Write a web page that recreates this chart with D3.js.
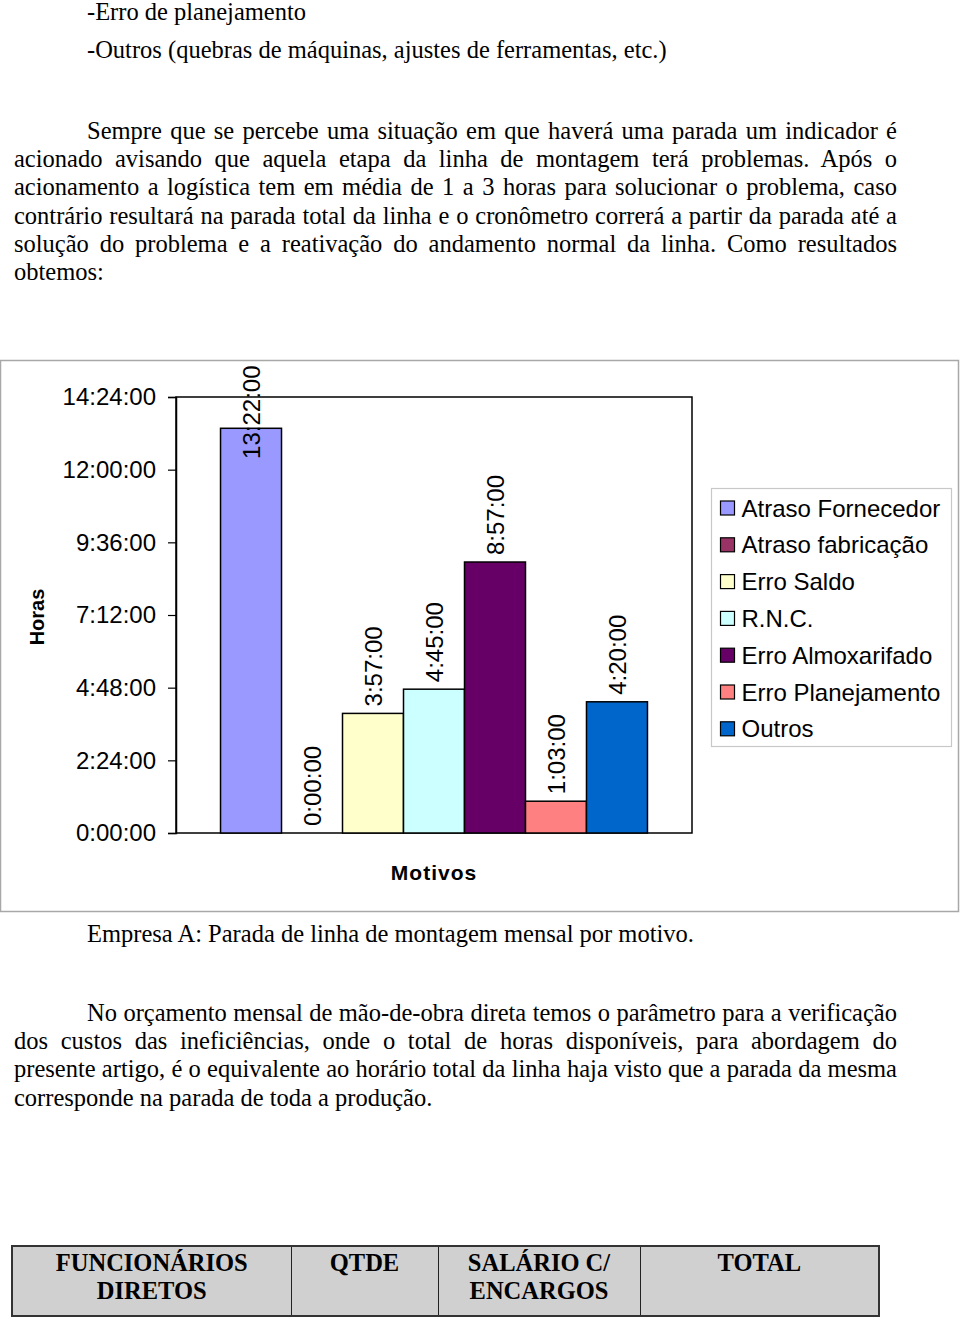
<!DOCTYPE html>
<html>
<head>
<meta charset="utf-8">
<script src="https://cdn.jsdelivr.net/npm/d3@7"></script>
<style>
  html, body { margin: 0; padding: 0; background: #fff; }
  body { width: 960px; height: 1319px; position: relative; overflow: hidden; }
  .doc { position: absolute; font-family: "Liberation Serif", "Times New Roman", serif; font-size: 24.5px; color: #000; line-height: 28.2px; white-space: nowrap; }
  .jl { text-align: justify; text-align-last: justify; white-space: normal; }
  svg { position: absolute; left: 0; top: 0; }
  table.t { position: absolute; left: 11px; top: 1245px; width: 867px; table-layout: fixed; border-collapse: collapse; background: #d0d0d0;
            border: 2.5px solid #333;
            font-family: "Liberation Serif", "Times New Roman", serif; font-weight: bold; font-size: 24.5px; line-height: 28px; }
  table.t td { border: 1.5px solid #222; text-align: center; vertical-align: top; padding: 2px 0 0 0; height: 66px; }
</style>
</head>
<body>
<script>
// ---- chart data ----
const categories = ["Atraso Fornecedor", "Atraso fabricação", "Erro Saldo", "R.N.C.", "Erro Almoxarifado", "Erro Planejamento", "Outros"];
const values = ["13:22:00", "0:00:00", "3:57:00", "4:45:00", "8:57:00", "1:03:00", "4:20:00"];
const colors = ["#9999FF", "#993366", "#FFFFCC", "#CCFFFF", "#660066", "#FF8080", "#0066CC"];
const tickLabels = ["0:00:00", "2:24:00", "4:48:00", "7:12:00", "9:36:00", "12:00:00", "14:24:00"];
const yTitle = "Horas";
const xTitle = "Motivos";

// ---- document text ----
const bullets = ["-Erro de planejamento", "-Outros (quebras de máquinas, ajustes de ferramentas, etc.)"];
const para1 = [
  "Sempre que se percebe uma situação em que haverá uma parada um indicador é",
  "acionado avisando que aquela etapa da linha de montagem terá problemas. Após o",
  "acionamento a logística tem em média de 1 a 3 horas para solucionar o problema, caso",
  "contrário resultará na parada total da linha e o cronômetro correrá a partir da parada até a",
  "solução do problema e a reativação do andamento normal da linha. Como resultados",
  "obtemos:"
];
const caption = "Empresa A: Parada de linha de montagem mensal por motivo.";
const para2 = [
  "No orçamento mensal de mão-de-obra direta temos o parâmetro para a verificação",
  "dos custos das ineficiências, onde o total de horas disponíveis, para abordagem do",
  "presente artigo, é o equivalente ao horário total da linha haja visto que a parada da mesma",
  "corresponde na parada de toda a produção."
];
const tableHead = [["FUNCIONÁRIOS", "DIRETOS"], ["QTDE"], ["SALÁRIO C/", "ENCARGOS"], ["TOTAL"]];
const tableColWidths = [279, 147, 202, 239];

const toHours = s => { const [h, m, sec] = s.split(":").map(Number); return h + m / 60 + sec / 3600; };

// ---- document text rendering ----
const body = d3.select("body");
function block(lines, left, top, width, indent) {
  const div = body.append("div").attr("class", "doc").style("left", left + "px").style("top", top + "px").style("width", width + "px");
  lines.forEach((l, i) => {
    const last = i === lines.length - 1;
    div.append("div")
      .attr("class", last ? null : "jl")
      .style("padding-left", (i === 0 ? indent : 0) + "px")
      .text(l);
  });
}
body.append("div").attr("class", "doc").style("left", "87px").style("top", "0px").style("line-height", "24px").text(bullets[0]);
body.append("div").attr("class", "doc").style("left", "87px").style("top", "36px").text(bullets[1]);
block(para1, 14, 117, 883, 73);
body.append("div").attr("class", "doc").style("left", "87px").style("top", "920px").text(caption);
block(para2, 14, 999, 883, 73);

// ---- table ----
const tbl = body.append("table").attr("class", "t");
const cg = tbl.append("colgroup");
tableColWidths.forEach(w => cg.append("col").style("width", w + "px"));
const tr = tbl.append("tr");
tableHead.forEach(c => { tr.append("td").html(c.join("<br>")); });

// ---- chart ----
const svg = body.append("svg").attr("width", 960).attr("height", 1319);
const frame = { x: 0.5, y: 360.5, w: 958, h: 551 };
svg.append("rect").attr("x", frame.x).attr("y", frame.y).attr("width", frame.w).attr("height", frame.h)
  .attr("fill", "#fff").attr("stroke", "#a8a8a8").attr("stroke-width", 1.5);

const plot = { left: 176, top: 397, right: 692, bottom: 833 };
const pw = plot.right - plot.left, ph = plot.bottom - plot.top;
const g = svg.append("g").attr("transform", `translate(${plot.left},${plot.top})`);

const y = d3.scaleLinear().domain([0, toHours(tickLabels[tickLabels.length - 1])]).range([ph, 0]);
const x = d3.scaleBand().domain(categories).range([0, pw]).paddingInner(0).paddingOuter(0.73);
const color = d3.scaleOrdinal().domain(categories).range(colors);

// plot border
g.append("rect").attr("width", pw).attr("height", ph).attr("fill", "#fff").attr("stroke", "#000").attr("stroke-width", 1.5);

// y axis
const yAxis = d3.axisLeft(y).tickValues(tickLabels.map(toHours)).tickFormat((d, i) => tickLabels[i]).tickSize(8).tickPadding(12);
const ya = g.append("g").call(yAxis);
ya.select(".domain").attr("stroke", "#000").attr("stroke-width", 1.5);
ya.selectAll(".tick line").attr("stroke", "#000").attr("stroke-width", 1.2);
ya.selectAll(".tick text").attr("font-family", "Liberation Sans, Arial, sans-serif").attr("font-size", 24).attr("fill", "#000");

// bars
const data = categories.map((c, i) => ({ c, v: toHours(values[i]), label: values[i] }));
g.selectAll("rect.bar").data(data).join("rect").attr("class", "bar")
  .attr("x", d => x(d.c)).attr("width", x.bandwidth())
  .attr("y", d => y(d.v)).attr("height", d => ph - y(d.v))
  .attr("fill", d => color(d.c)).attr("stroke", d => d.v > 0 ? "#000" : "none").attr("stroke-width", 1.5);

// bar labels
const labs = g.selectAll("text.lab").data(data).join("text").attr("class", "lab")
  .attr("font-family", "Liberation Sans, Arial, sans-serif").attr("font-size", 24).attr("fill", "#000")
  .attr("text-anchor", "start").attr("dy", "0.36em")
  .text(d => d.label);
labs.each(function (d) {
  const len = this.getComputedTextLength();
  const minStart = (frame.y + 5 - plot.top) + len;
  const sy = Math.max(y(d.v) - 7, minStart);
  d3.select(this).attr("transform", `translate(${x(d.c) + x.bandwidth() / 2},${sy}) rotate(-90)`);
});

// axis titles
svg.append("text").attr("transform", "translate(37,617) rotate(-90)").attr("text-anchor", "middle").attr("dy", "0.36em")
  .attr("font-family", "Liberation Sans, Arial, sans-serif").attr("font-weight", "bold").attr("font-size", 20).text(yTitle);
svg.append("text").attr("x", 434).attr("y", 872).attr("text-anchor", "middle").attr("dy", "0.36em")
  .attr("font-family", "Liberation Sans, Arial, sans-serif").attr("font-weight", "bold").attr("font-size", 21)
  .attr("letter-spacing", 1).text(xTitle);

// legend
const leg = { x: 711.5, y: 488.5, w: 240, h: 258, row: 36.8, first: 508 };
svg.append("rect").attr("x", leg.x).attr("y", leg.y).attr("width", leg.w).attr("height", leg.h)
  .attr("fill", "#fff").attr("stroke", "#c8c8c8").attr("stroke-width", 1.2);
const li = svg.selectAll("g.li").data(categories).join("g").attr("class", "li")
  .attr("transform", (d, i) => `translate(${leg.x + 9},${leg.first + i * leg.row})`);
li.append("rect").attr("x", 0).attr("y", -7).attr("width", 14).attr("height", 14)
  .attr("fill", d => color(d)).attr("stroke", "#000").attr("stroke-width", 1.2);
li.append("text").attr("x", 21).attr("dy", "0.36em")
  .attr("font-family", "Liberation Sans, Arial, sans-serif").attr("font-size", 24).text(d => d);
</script>
</body>
</html>
